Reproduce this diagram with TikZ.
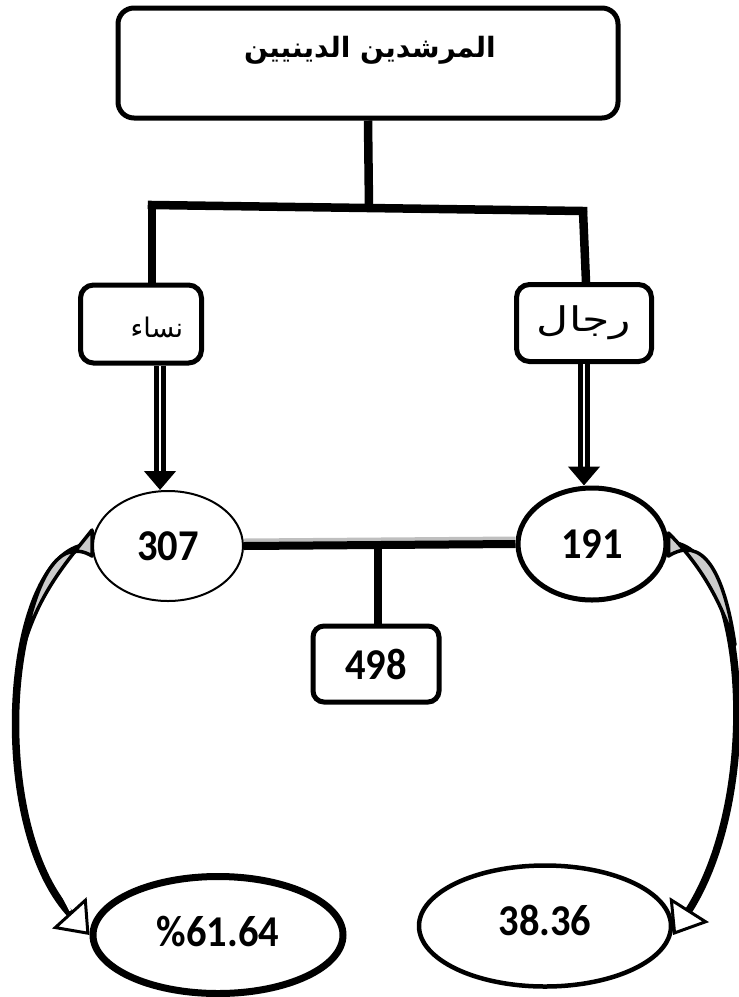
\documentclass[tikz,border=0pt]{standalone}
\usepackage{fontspec}
\TeXXeTstate=1
\newfontfamily\arabicfont[Script=Arabic]{DejaVu Sans}
\newfontfamily\numfont[FakeStretch=0.92]{Carlito}
\usetikzlibrary{arrows.meta,shapes.geometric}
\tikzset{
  rbox/.style={draw, rounded corners=13pt, line width=5pt, fill=white, inner sep=0pt},
  conn/.style={line width=8.5pt},
  dblarrow/.style={double=white, double distance=1.6pt, line width=5.2pt, -{Triangle[length=19pt,width=31pt]}},
  oval/.style={draw, ellipse, fill=white, inner sep=0pt},
  num/.style={font=\numfont\bfseries\fontsize{44}{48}\selectfont},
  curvarrow/.style={line width=7.5pt, -{Triangle[open,length=30pt,width=46pt,line width=3pt]}},
  hollow/.style={white, line width=2.2pt, shorten >=31pt},
  wedge/.style={fill=black!20, draw=black, line width=3.5pt, line join=round}
}
\begin{document}
\begin{tikzpicture}[x=1pt,y=-1pt]
\useasboundingbox (0,0) rectangle (739,997);
% top box
\node[rbox, rounded corners=16pt, minimum width=500pt, minimum height=110pt] (top) at (368,63) {};
\node[font=\arabicfont\bfseries\fontsize{28}{30}\selectfont] (toptext) at (370,50) {\beginR المرشدين الدينيين\endR};
% tree connectors
\coordinate (j1) at (369,207);
\coordinate (jl) at (152,205);
\coordinate (jr) at (583,211);
\node[rbox, minimum width=121pt, minimum height=78pt] (nisa) at (141,324) {};
\node[font=\arabicfont\fontsize{27}{30}\selectfont] (nisat) at (157,327) {\beginR نساء\endR};
\node[rbox, minimum width=135pt, minimum height=77pt, font=\arabicfont\fontsize{34}{38}\selectfont] (rijal) at (584,323) {\scalebox{1.3}[1]{\beginR رجال\endR}};
\draw[conn] (top.south) -- (j1);
\draw[conn, line cap=rect] (jl) -- (jr);
\draw[conn] (jl) -- (jl |- nisa.north);
\draw[conn] (jr) -- (586,0 |- rijal.north);
% ellipses
\node[oval, line width=2pt, minimum width=150pt, minimum height=110pt, num] (e307) at (168,546) {307};
\node[oval, line width=5pt, minimum width=148pt, minimum height=112pt, num] (e191) at (592,544) {191};
\draw[dblarrow] (nisa.south -| 160,0) -- (160,0 |- e307.north);
\draw[dblarrow] (rijal.south -| 584,0) -- (584,0 |- e191.north);
% sum line
\coordinate (jm) at (378,545);
\node[rbox, rounded corners=11pt, minimum width=126pt, minimum height=76pt, num] (tot) at (376,664) {498};
\draw[line width=8pt, black!25] ([yshift=3.5pt]e307.east) -- ([yshift=3.5pt]e191.west);
\draw[line width=8pt] (e307.east) -- (e191.west);
\draw[conn] (jm) -- (jm |- tot.north);
% bottom ellipses
\node[oval, line width=7pt, minimum width=250pt, minimum height=117pt] (p61) at (218,935) {};
\node[num] (p61t) at (218,932) {\%61.64};
\node[oval, line width=4.5pt, minimum width=252pt, minimum height=121pt] (p38) at (545,926) {};
\node[num] (p38t) at (545,920) {38.36};
% curved arrows
\coordinate (lsplit) at (43.1,850.3);
\coordinate (rsplit) at (714.1,829.6);
\draw[curvarrow] (e307.west) .. controls (5,545) and (-15,820) .. (p61.west);
\draw[hollow] (lsplit) .. controls (54.9,882.6) and (71.4,912) .. (p61.west);
\draw[wedge] ([yshift=-10pt]e307.west) .. controls (62,538) and (38,570) .. (24,645)
   .. controls (40,592) and (65,564) .. ([yshift=16pt]e307.west) -- cycle;
\draw[curvarrow] (e191.east) .. controls (745,545) and (765,790) .. ([yshift=-9pt]p38.east);
\draw[hollow] (rsplit) .. controls (704,861.5) and (689.8,891.6) .. ([yshift=-9pt]p38.east);
\draw[wedge] ([yshift=-12pt]e191.east) .. controls (702,535) and (724,570) .. (735,645)
   .. controls (718,592) and (695,560) .. ([yshift=11pt]e191.east) -- cycle;
\end{tikzpicture}
\end{document}
